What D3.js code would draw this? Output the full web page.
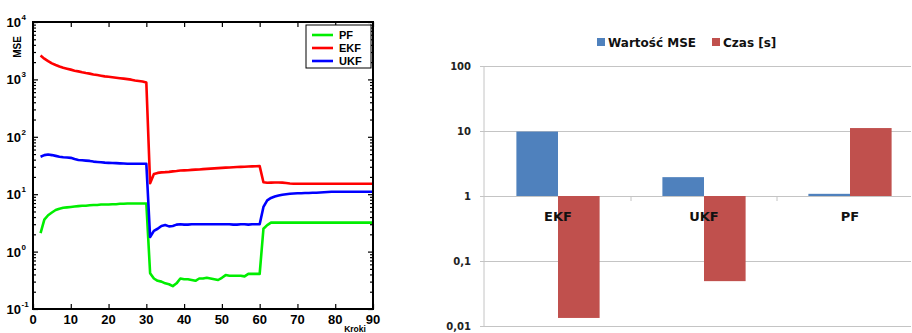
<!DOCTYPE html>
<html>
<head>
<meta charset="utf-8">
<script src="https://cdn.jsdelivr.net/npm/d3@7"></script>
<style>
  body { margin: 0; background: #fff; }
  svg { display: block; }
</style>
</head>
<body>
<svg id="chart" width="912" height="333"></svg>
<script>
// ---- left chart: MSE per step (log scale) ----
const steps = d3.range(2, 91);

const pfMse = [
  2.1, 3.6, 4.3, 4.8, 5.3, 5.6, 5.8, 5.9, 6.0, 6.1, 6.2, 6.3, 6.3, 6.4, 6.5, 6.5, 6.6, 6.6, 6.6,
  6.7, 6.7, 6.8, 6.8, 6.9, 6.9, 6.9, 6.9, 6.9, 6.9,
  0.42, 0.34, 0.31, 0.30, 0.28, 0.27, 0.25, 0.28, 0.34, 0.33, 0.33, 0.32, 0.31, 0.34, 0.34,
  0.35, 0.34, 0.33, 0.32, 0.35, 0.39, 0.38, 0.38, 0.38, 0.38, 0.37, 0.41, 0.41, 0.41, 0.41,
  2.5, 2.9, 3.2, 3.2, 3.2, 3.2, 3.2, 3.2, 3.2, 3.2, 3.2, 3.2, 3.2, 3.2, 3.2, 3.2, 3.2, 3.2,
  3.2, 3.2, 3.2, 3.2, 3.2, 3.2, 3.2, 3.2, 3.2, 3.2, 3.2, 3.2
];

const ekfMse = [
  2600, 2300, 2080, 1900, 1780, 1680, 1600, 1540, 1480, 1420, 1380, 1330, 1290, 1260, 1220,
  1190, 1160, 1130, 1110, 1090, 1070, 1050, 1030, 1010, 990, 960, 940, 920, 880,
  15.5, 22.5, 23.5, 24, 24.2, 24.5, 25, 25.3, 25.8, 26, 26.2, 26.5, 26.8, 27, 27.3, 27.6,
  27.9, 28.2, 28.5, 28.8, 29, 29.2, 29.5, 29.7, 29.9, 30.1, 30.3, 30.5, 30.6, 30.8,
  16.2, 15.8, 15.9, 16, 16, 15.9, 15.7, 15.4, 15.2, 15.2, 15.2, 15.2, 15.2, 15.2, 15.2, 15.2,
  15.2, 15.2, 15.2, 15.2, 15.2, 15.2, 15.2, 15.2, 15.2, 15.2, 15.2, 15.2, 15.2, 15.2
];

const ukfMse = [
  45, 48, 49, 48, 46.5, 45, 44, 43.5, 43, 41, 39.5, 39, 38.5, 38, 37, 36.5, 36, 35.5, 35.2,
  35, 34.8, 34.5, 34.2, 34, 34, 34, 34, 34, 34,
  1.8, 2.3, 2.5, 2.8, 2.9, 2.75, 2.8, 2.95, 3.0, 2.95, 2.95, 3.0, 3.0, 3.0, 3.0, 3.0, 3.0,
  3.0, 3.0, 3.0, 3.0, 3.0, 2.95, 2.95, 3.0, 3.0, 2.95, 3.0, 3.0, 3.0,
  6.0, 7.8, 8.6, 9.1, 9.5, 9.8, 10.0, 10.2, 10.3, 10.4, 10.4, 10.5, 10.5, 10.6, 10.6, 10.7,
  10.8, 10.9, 11.0, 11.0, 11.0, 11.0, 11.0, 11.0, 11.0, 11.0, 11.0, 11.0, 11.0, 11.0
];

const lineSeries = [
  { name: "PF", values: pfMse, color: "#00ee00" },
  { name: "EKF", values: ekfMse, color: "#ff0000" },
  { name: "UKF", values: ukfMse, color: "#0000ff" }
];

const stepTicks = [0, 10, 20, 30, 40, 50, 60, 70, 80, 90];
const mseDecades = [0.1, 1, 10, 100, 1000, 10000];

// ---- right chart: MSE and time per filter ----
const filters = ["EKF", "UKF", "PF"];
const mseValue = [9.8, 1.95, 1.08];
const timeSec = [0.0133, 0.049, 11.1];
const barTicks = [100, 10, 1, 0.1, 0.01];
const barTickLabels = ["100", "10", "1", "0,1", "0,01"];
const barSeries = [
  { name: "Wartość MSE", values: mseValue, color: "#4f81bd" },
  { name: "Czas [s]", values: timeSec, color: "#c0504d" }
];

const svg = d3.select("#chart");
const arial = "'Liberation Sans', Arial, sans-serif";

// ================= left chart =================
const left = { x0: 33, x1: 373, y0: 22, y1: 309 };
const x = d3.scaleLinear().domain([0, 90]).range([left.x0, left.x1]);
const y = d3.scaleLog().domain([0.1, 10000]).range([left.y1, left.y0]);

const minors = [];
mseDecades.slice(0, -1).forEach(d => {
  for (let k = 2; k <= 9; k++) minors.push(d * k);
});

const gl = svg.append("g");

// lines
const line = d3.line().x((d, i) => x(steps[i])).y(d => y(d));
gl.selectAll("path.mse")
  .data(lineSeries)
  .join("path")
  .attr("class", "mse")
  .attr("fill", "none")
  .attr("stroke", d => d.color)
  .attr("stroke-width", 2.6)
  .attr("stroke-linejoin", "round")
  .attr("d", d => line(d.values));

// ticks (inward on all four sides)
function styleAxis(g) {
  g.select(".domain").remove();
  g.selectAll("line").attr("stroke", "#000").attr("stroke-width", 1.2);
}
gl.append("g").attr("transform", `translate(0,${left.y1})`)
  .call(d3.axisBottom(x).tickValues(stepTicks).tickSize(-5).tickFormat(""))
  .call(styleAxis);
gl.append("g").attr("transform", `translate(0,${left.y0})`)
  .call(d3.axisTop(x).tickValues(stepTicks).tickSize(-5).tickFormat(""))
  .call(styleAxis);
gl.append("g").attr("transform", `translate(${left.x0},0)`)
  .call(d3.axisLeft(y).tickValues(mseDecades).tickSize(-5).tickFormat(""))
  .call(styleAxis);
gl.append("g").attr("transform", `translate(${left.x0},0)`)
  .call(d3.axisLeft(y).tickValues(minors).tickSize(-3).tickFormat(""))
  .call(styleAxis);
gl.append("g").attr("transform", `translate(${left.x1},0)`)
  .call(d3.axisRight(y).tickValues(mseDecades).tickSize(-5).tickFormat(""))
  .call(styleAxis);
gl.append("g").attr("transform", `translate(${left.x1},0)`)
  .call(d3.axisRight(y).tickValues(minors).tickSize(-3).tickFormat(""))
  .call(styleAxis);

// frame
gl.append("rect")
  .attr("x", left.x0).attr("y", left.y0)
  .attr("width", left.x1 - left.x0).attr("height", left.y1 - left.y0)
  .attr("fill", "none").attr("stroke", "#000").attr("stroke-width", 2);

// x tick labels
gl.selectAll("text.xt")
  .data(stepTicks)
  .join("text")
  .attr("class", "xt")
  .attr("x", d => x(d))
  .attr("y", 324)
  .attr("text-anchor", "middle")
  .style("font", `bold 13px ${arial}`)
  .text(d => d);

// y tick labels 10^n
gl.selectAll("text.yt")
  .data(mseDecades)
  .join("text")
  .attr("class", "yt")
  .attr("x", 21)
  .attr("y", d => y(d) + 5)
  .attr("text-anchor", "end")
  .style("font", `bold 13px ${arial}`)
  .text("10");
gl.selectAll("text.ye")
  .data(mseDecades)
  .join("text")
  .attr("class", "ye")
  .attr("x", 21.5)
  .attr("y", d => y(d) - 2)
  .style("font", `bold 8px ${arial}`)
  .text(d => Math.round(Math.log10(d)));

gl.append("text")
  .attr("transform", "translate(21,47) rotate(-90)")
  .attr("text-anchor", "middle")
  .style("font", `bold 10px ${arial}`)
  .text("MSE");

gl.append("text")
  .attr("x", 355).attr("y", 332)
  .attr("text-anchor", "middle")
  .style("font", `bold 8.5px ${arial}`)
  .text("Kroki");

// legend
const lg = gl.append("g");
lg.append("rect")
  .attr("x", 306).attr("y", 25).attr("width", 65).attr("height", 43)
  .attr("fill", "#fff").attr("stroke", "#000").attr("stroke-width", 1);
const lgItem = lg.selectAll("g.item")
  .data(lineSeries)
  .join("g")
  .attr("class", "item")
  .attr("transform", (d, i) => `translate(0,${35 + i * 13})`);
lgItem.append("line")
  .attr("x1", 312).attr("x2", 333)
  .attr("stroke", d => d.color).attr("stroke-width", 2.6);
lgItem.append("text")
  .attr("x", 339).attr("y", 4)
  .style("font", `bold 11px ${arial}`)
  .text(d => d.name);

// ================= right chart =================
const right = { x0: 485, x1: 923, y0: 66, y1: 326 };
const yb = d3.scaleLog().domain([0.01, 100]).range([right.y1, right.y0]);
const x0 = d3.scaleBand().domain(filters).range([right.x0, right.x1])
  .paddingInner(0.43).paddingOuter(0.215);
const x1 = d3.scaleBand().domain(barSeries.map(s => s.name)).range([0, x0.bandwidth()]);
const dejavu = "'DejaVu Sans', Verdana, sans-serif";

const gr = svg.append("g");

// gridlines + labels
gr.append("g").attr("transform", `translate(${right.x0 - 1},0)`)
  .call(d3.axisLeft(yb).tickValues(barTicks).tickSize(-(912 - right.x0 + 4)).tickFormat(""))
  .call(g => g.select(".domain").remove())
  .call(g => g.selectAll("line").attr("stroke", "#c4c4c4").attr("transform", "translate(-4,0)"));
gr.append("line")
  .attr("x1", right.x0 - 1).attr("x2", right.x0 - 1)
  .attr("y1", right.y0).attr("y2", right.y1)
  .attr("stroke", "#c4c4c4");
gr.selectAll("text.bt")
  .data(barTicks)
  .join("text")
  .attr("class", "bt")
  .attr("x", 471)
  .attr("y", d => yb(d) + 4)
  .attr("text-anchor", "end")
  .style("font", `bold 10px ${dejavu}`)
  .attr("fill", "#222")
  .text((d, i) => barTickLabels[i]);

// bars
const groups = gr.selectAll("g.cat")
  .data(filters)
  .join("g")
  .attr("class", "cat")
  .attr("transform", d => `translate(${x0(d)},0)`);
groups.selectAll("rect")
  .data((f, i) => barSeries.map(s => ({ name: s.name, color: s.color, v: s.values[i] })))
  .join("rect")
  .attr("x", d => x1(d.name))
  .attr("width", x1.bandwidth())
  .attr("y", d => Math.min(yb(d.v), yb(1)))
  .attr("height", d => Math.abs(yb(d.v) - yb(1)))
  .attr("fill", d => d.color);

// category separators on the 1 line
gr.selectAll("line.sep")
  .data(d3.range(1, filters.length))
  .join("line")
  .attr("class", "sep")
  .attr("x1", i => right.x0 + i * x0.step())
  .attr("x2", i => right.x0 + i * x0.step())
  .attr("y1", yb(1)).attr("y2", yb(1) + 5)
  .attr("stroke", "#c4c4c4");

gr.selectAll("text.cat")
  .data(filters)
  .join("text")
  .attr("class", "cat")
  .attr("x", d => x0(d) + x0.bandwidth() / 2)
  .attr("y", yb(1) + 25)
  .attr("text-anchor", "middle")
  .style("font", `bold 13px ${dejavu}`)
  .attr("fill", "#111")
  .text(d => d);

// legend
const blg = gr.selectAll("g.blg")
  .data(barSeries)
  .join("g")
  .attr("class", "blg")
  .attr("transform", (d, i) => `translate(${[597, 712][i]},0)`);
blg.append("rect")
  .attr("x", 0).attr("y", 38).attr("width", 8).attr("height", 8)
  .attr("fill", d => d.color);
blg.append("text")
  .attr("x", 11).attr("y", 47)
  .style("font", `bold 12px ${dejavu}`)
  .attr("fill", "#111")
  .text(d => d.name);
</script>
</body>
</html>
